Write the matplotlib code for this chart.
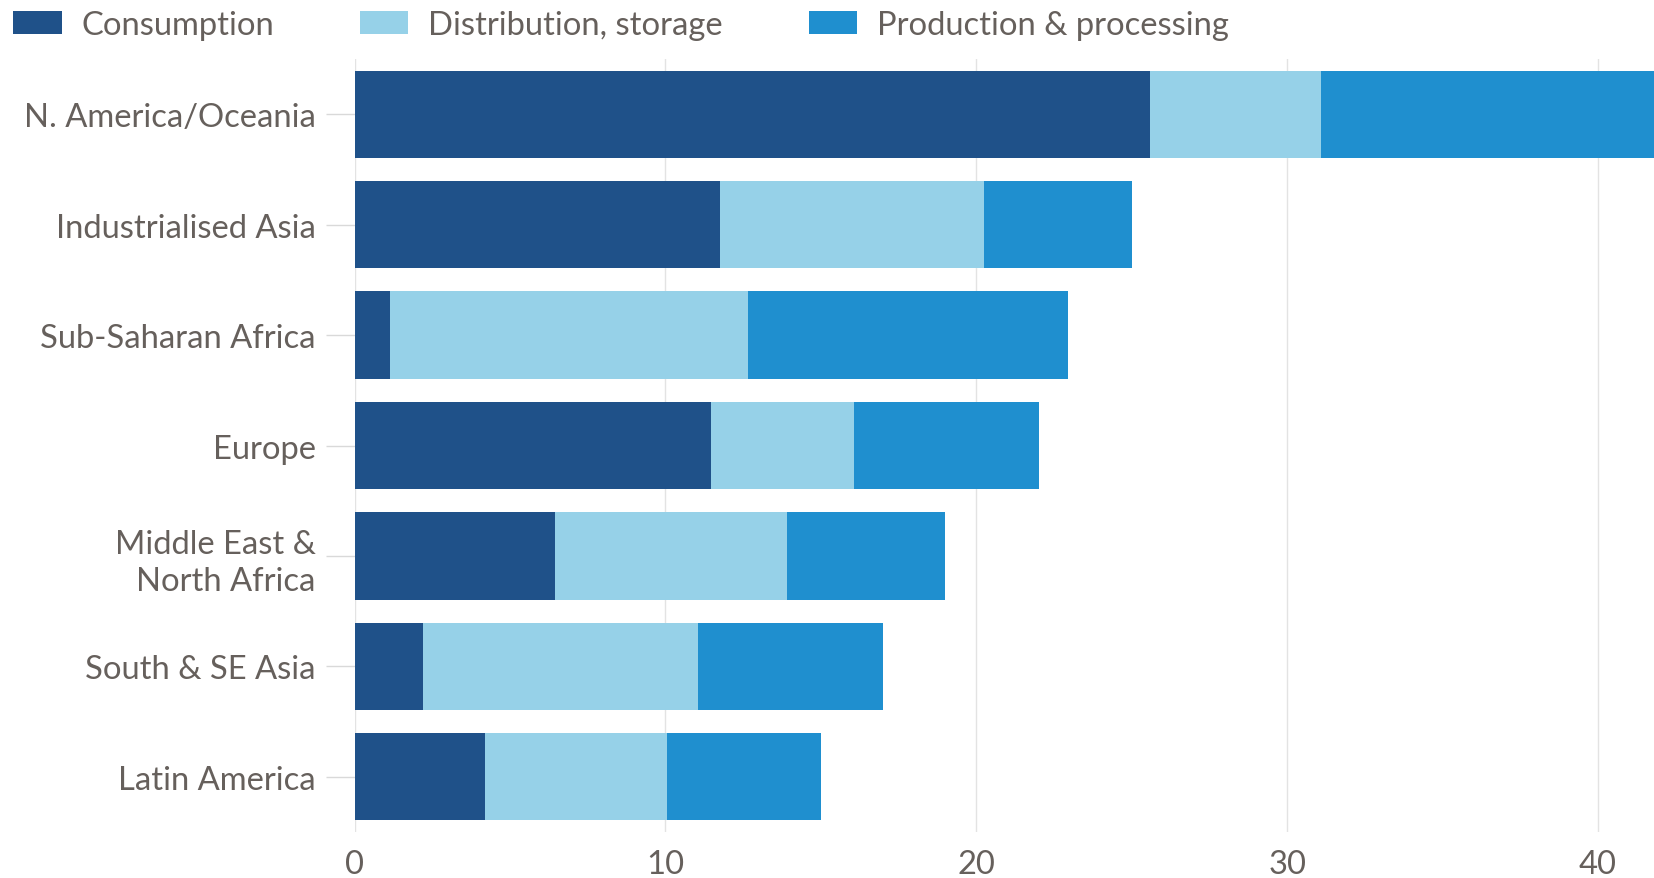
import matplotlib
matplotlib.use("Agg")
import matplotlib.pyplot as plt
import numpy as np

regions = ["N. America/Oceania", "Industrialised Asia", "Sub-Saharan Africa", "Europe",
           "Middle East &\nNorth Africa", "South & SE Asia", "Latin America"]
consumption = [25.6, 11.75, 1.15, 11.45, 6.45, 2.2, 4.2]
distribution = [5.5, 8.5, 11.5, 4.6, 7.45, 8.85, 5.85]
production = [11.2, 4.75, 10.3, 5.95, 5.1, 5.95, 4.95]
series_names = ["Consumption", "Distribution, storage", "Production & processing"]
xticks = [0, 10, 20, 30, 40]

colors = ["#1f5189", "#96d1e8", "#1f8fcf"]
text_color = "#66605c"
plt.rcParams['font.family'] = ['Lato', 'DejaVu Sans']
fs = 23.6

fig = plt.figure(figsize=(16.54, 8.79), dpi=100)
ax = fig.add_axes([0.2144, 0.0523, 1 - 0.2144, 0.9317 - 0.0523])

y = np.arange(len(regions))
left = np.zeros(len(regions))
for vals, c, name in zip([consumption, distribution, production], colors, series_names):
    ax.barh(y, vals, left=left, height=0.79, color=c, label=name, zorder=2)
    left = left + np.array(vals)

ax.set_xlim(0, 41.8)
ax.set_ylim(6.5, -0.5)
ax.set_yticks(y)
ax.set_yticklabels(regions, fontsize=fs, color=text_color, ha='right', linespacing=1.3)
ax.set_xticks(xticks)
ax.set_xticklabels([str(t) for t in xticks], fontsize=fs, color=text_color)
ax.tick_params(axis='y', length=21, width=1, color="#d9d9d9", pad=7)
ax.tick_params(axis='x', length=0, pad=12)
ax.grid(axis='x', color="#e3e3e3", linewidth=1, zorder=0)
for s in ax.spines.values():
    s.set_visible(False)

fig.legend(loc='upper left', bbox_to_anchor=(-0.004, 1.01), ncol=3, frameon=False,
           fontsize=fs, labelcolor=text_color, handlelength=1.48, handleheight=0.73,
           handletextpad=0.6, columnspacing=2.62, borderaxespad=0.2)

fig.savefig("out.png", dpi=100)
